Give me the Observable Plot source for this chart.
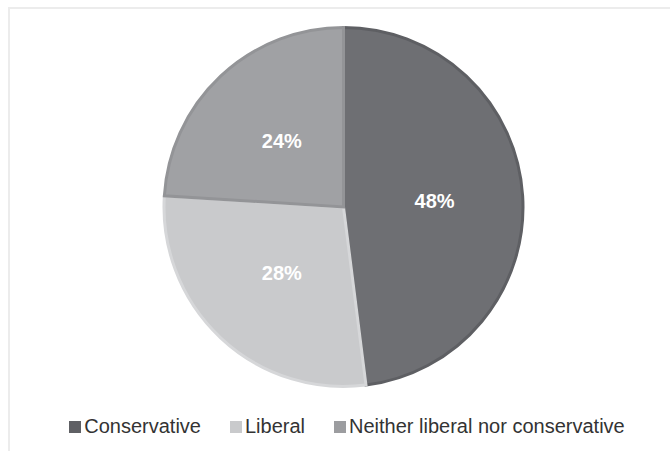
<!DOCTYPE html>
<html>
<head>
<meta charset="utf-8">
<script src="https://cdn.jsdelivr.net/npm/d3@7"></script>
<script src="https://cdn.jsdelivr.net/npm/@observablehq/plot@0.6"></script>
<style>
  html, body { margin: 0; padding: 0; background: #fff; }
  #wrap { position: relative; width: 670px; height: 451px; overflow: hidden; font-family: "Liberation Sans", Arial, sans-serif; }
  #frame { position: absolute; left: 8px; top: 7px; right: -10px; bottom: -10px; border-top: 2px solid #ececec; border-left: 2px solid #ececec; }
  #chart { position: absolute; left: 0; top: 0; }
  #legend { position: absolute; left: 0; top: 415px; width: 670px; display: flex; justify-content: center; gap: 29px; font-size: 20px; color: #333; padding-left: 24px; box-sizing: border-box; }
  .item { display: flex; align-items: center; }
  .sw { width: 12px; height: 12px; margin-right: 3px; margin-top: 1px; }
</style>
</head>
<body>
<div id="wrap">
  <div id="frame"></div>
  <div id="chart"></div>
  <div id="legend"></div>
</div>
<script>
const categories = ["Conservative", "Liberal", "Neither liberal nor conservative"];
const values = [48, 28, 24];
const labels = ["48%", "28%", "24%"];
const fills = ["#6e6f73", "#c9cacc", "#a0a1a4"];
const strokes = ["#5e5f63", "#d6d7d9", "#939497"];
const swatches = ["#5f6064", "#c9cacc", "#9c9da0"];

const data = categories.map((name, i) => ({name, value: values[i], label: labels[i]}));
const arcs = d3.pie().sort(null).value(d => d.value)(data);
const unitArc = d3.arc().innerRadius(0).outerRadius(1);
const labelData = arcs.map(a => {
  const [cx, cy] = unitArc.centroid(a);
  return {name: a.data.name, label: a.data.label, cx, cy: -cy};
});

const W = 670, H = 405;
const plot = Plot.plot({
  width: W,
  height: H,
  marginTop: 26,
  marginBottom: 17,
  marginLeft: 162,
  marginRight: 145,
  x: {domain: [-1, 1], axis: null},
  y: {domain: [-1, 1], axis: null},
  color: {domain: categories, range: fills},
  style: {background: "transparent"},
  marks: [
    Plot.barX(data, {
      x: "value",
      fill: "name",
      render: (index, scales, values, dimensions) => {
        const {width, height, marginLeft, marginRight, marginTop, marginBottom} = dimensions;
        const cx = (marginLeft + width - marginRight) / 2;
        const cy = (marginTop + height - marginBottom) / 2;
        const R = Math.min(width - marginLeft - marginRight, height - marginTop - marginBottom) / 2;
        const arc = d3.arc().innerRadius(0).outerRadius(R - 1.5);
        const g = d3.create("svg:g").attr("transform", `translate(${cx},${cy})`);
        g.selectAll("path")
          .data(arcs)
          .join("path")
          .attr("d", arc)
          .attr("fill", (d, i) => scales.color(d.data.name))
          .attr("stroke", (d, i) => strokes[i])
          .attr("stroke-width", 3)
          .attr("stroke-linejoin", "miter");
        return g.node();
      }
    }),
    Plot.text(labelData, {
      x: "cx",
      y: "cy",
      text: "label",
      fill: "white",
      fontSize: 20,
      fontWeight: "bold",
      fontFamily: "Liberation Sans, Arial, sans-serif"
    })
  ]
});
document.getElementById("chart").appendChild(plot);

const legend = document.getElementById("legend");
categories.forEach((c, i) => {
  const item = document.createElement("div");
  item.className = "item";
  const sw = document.createElement("div");
  sw.className = "sw";
  sw.style.background = swatches[i];
  const t = document.createElement("span");
  t.textContent = c;
  item.appendChild(sw);
  item.appendChild(t);
  legend.appendChild(item);
});
</script>
</body>
</html>
